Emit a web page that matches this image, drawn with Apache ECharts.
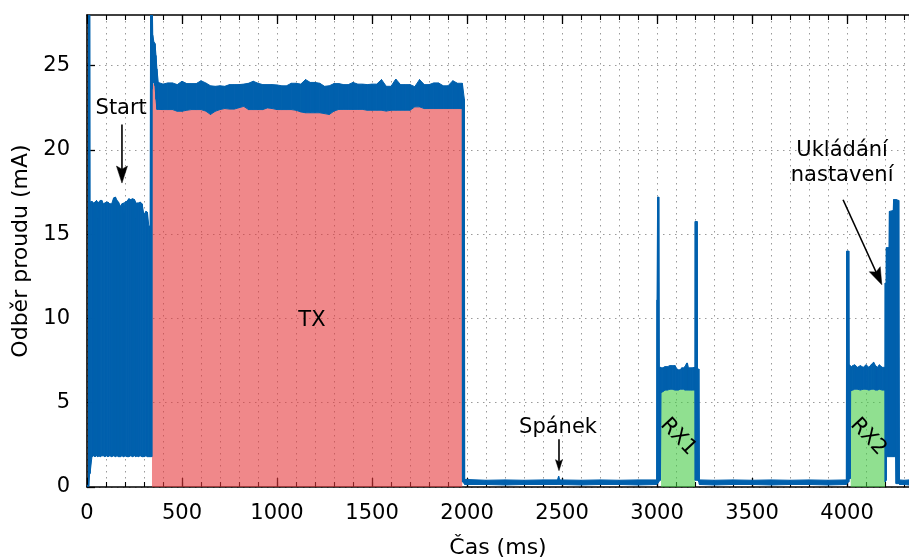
<!DOCTYPE html>
<html>
<head>
<meta charset="utf-8">
<script src="https://cdn.jsdelivr.net/npm/echarts@6/dist/echarts.min.js"></script>
<style>
  html, body { margin: 0; padding: 0; background: #ffffff; }
  #chart { width: 909px; height: 559px; }
</style>
</head>
<body>
<div id="chart"></div>
<script>
// ---- Measured current consumption: upper / lower envelope of the sampled signal ----
// Each segment: sample times (ms), upper envelope (mA), lower envelope (mA).

// power-up and start phase
const startT  = [0, 8, 9, 14, 16, 26, 34, 42, 50, 56, 58, 62, 70, 78, 86, 94, 102, 110, 120, 130,
                 140, 150, 158, 166, 176, 184, 192, 194, 200, 210, 220, 230, 240, 250, 256, 258, 262, 270, 280, 290,
                 298, 300, 302, 310, 318, 325, 332, 335, 341];
const startHi = [0.1, 0.1, 30, 30, 16.9, 16.95, 16.85, 16.9, 17.0, 16.9, 15.9, 16.9, 17.0, 17.0, 16.8, 16.85, 16.9, 16.9, 16.8, 16.8,
                 17.15, 17.2, 17.0, 16.9, 16.65, 16.8, 16.85, 16.3, 16.9, 16.95, 17.1, 17.05, 17.1, 17.05, 16.9, 15.9, 16.85, 16.85, 16.9, 16.8,
                 16.25, 15.8, 16.2, 16.35, 16.3, 15.5, 15.45, 30, 30];
const startLo = [0.05, 0.05, 0.05, 0.8, 0.8, 1.8, 1.85, 1.8, 1.85, 1.8, 1.8, 1.85, 1.8, 1.85, 1.85, 1.8, 1.85, 1.8, 1.85, 1.8,
                 1.85, 1.8, 1.85, 1.8, 1.8, 1.85, 1.8, 1.8, 1.85, 1.8, 1.8, 1.85, 1.8, 1.85, 1.8, 1.8, 1.85, 1.8, 1.85, 1.8,
                 1.8, 5.2, 1.8, 1.85, 1.8, 1.8, 1.8, 1.8, 1.8];

// transmission (TX)
const txT  = [342, 346, 352, 358, 363, 368, 375, 400, 425, 450, 475, 500, 525, 550, 575, 600, 625, 650, 675, 700,
              725, 750, 775, 800, 825, 850, 875, 900, 925, 950, 975, 1000, 1025, 1050, 1075, 1100, 1125, 1150, 1175, 1200,
              1225, 1250, 1275, 1300, 1325, 1350, 1375, 1400, 1425, 1450, 1475, 1500, 1525, 1550, 1575, 1600, 1625, 1650, 1675, 1700,
              1725, 1750, 1775, 1800, 1825, 1850, 1875, 1900, 1925, 1950, 1975];
const txHi = [30, 26.8, 26.4, 26.3, 25.6, 24.8, 24.0, 23.9, 23.97, 23.97, 23.87, 24.07, 23.93, 23.93, 23.93, 24.1, 23.97, 23.8, 23.77, 23.8,
              23.77, 23.87, 23.87, 23.87, 23.9, 23.95, 24.07, 23.95, 23.87, 23.87, 23.87, 23.85, 23.8, 23.8, 23.95, 23.95, 23.9, 24.17, 24.0, 24.0,
              23.95, 23.77, 23.8, 23.93, 23.93, 23.87, 23.87, 24.0, 23.9, 23.9, 23.87, 23.9, 23.9, 24.17, 23.77, 23.77, 24.2, 23.87, 23.87, 23.87,
              23.75, 24.17, 23.87, 23.87, 23.97, 23.97, 23.8, 23.8, 24.1, 23.95, 23.95];
const txLo = [23.6, 24.0, 24.0, 23.8, 23.0, 22.4, 22.4, 22.39, 22.39, 22.39, 22.29, 22.29, 22.35, 22.39, 22.39, 22.39, 22.3, 22.1, 22.29, 22.39,
              22.45, 22.42, 22.42, 22.5, 22.58, 22.39, 22.39, 22.39, 22.39, 22.49, 22.45, 22.39, 22.39, 22.39, 22.39, 22.35, 22.25, 22.2, 22.2, 22.2,
              22.2, 22.15, 22.1, 22.3, 22.4, 22.4, 22.4, 22.4, 22.4, 22.4, 22.35, 22.35, 22.35, 22.35, 22.3, 22.35, 22.35, 22.35, 22.35, 22.35,
              22.55, 22.55, 22.45, 22.45, 22.45, 22.45, 22.45, 22.45, 22.45, 22.45, 22.45];

// sleep after transmission
const sleep1T  = [1976, 1986, 1988, 2100, 2200, 2300, 2400, 2476, 2482, 2488, 2600, 2700, 2800, 2900, 2998];
const sleep1Hi = [23.9, 23.0, 0.45, 0.4, 0.42, 0.4, 0.42, 0.42, 0.65, 0.42, 0.4, 0.42, 0.4, 0.42, 0.42];
const sleep1Lo = [0.3, 0.2, 0.15, 0.15, 0.12, 0.15, 0.15, 0.15, 0.15, 0.15, 0.12, 0.15, 0.15, 0.12, 0.15];

// first receive window: wake-up peak, RX1, closing peak
const rx1OpenT  = [3000, 3003, 3009, 3012, 3018];
const rx1OpenHi = [11.1, 17.2, 17.2, 7.1, 7.1];
const rx1OpenLo = [0.2, 0.2, 0.3, 0.4, 0.4];
const rx1T  = [3021, 3030, 3042, 3055, 3068, 3080, 3095, 3105, 3112, 3122, 3130, 3140, 3147, 3156, 3160, 3165, 3175, 3185, 3200];
const rx1Hi = [7.07, 7.07, 7.14, 7.14, 7.2, 7.2, 7.2, 7.0, 6.95, 6.95, 7.07, 7.07, 7.14, 7.35, 7.35, 7.07, 7.07, 7.07, 7.1];
const rx1Lo = [5.6, 5.65, 5.75, 5.75, 5.8, 5.8, 5.75, 5.75, 5.75, 5.8, 5.8, 5.8, 5.75, 5.75, 5.75, 5.75, 5.75, 5.75, 5.75];
const rx1CloseT  = [3201, 3211, 3213, 3220];
const rx1CloseHi = [15.75, 15.75, 7.0, 7.0];
const rx1CloseLo = [0.4, 0.4, 0.4, 0.3];

// sleep between the receive windows
const sleep2T  = [3223, 3300, 3400, 3500, 3600, 3700, 3800, 3900, 3996];
const sleep2Hi = [0.42, 0.4, 0.42, 0.4, 0.42, 0.4, 0.42, 0.4, 0.42];
const sleep2Lo = [0.15, 0.12, 0.15, 0.15, 0.12, 0.15, 0.15, 0.12, 0.15];

// second receive window
const rx2OpenT  = [3998, 4009, 4011, 4017];
const rx2OpenHi = [14.0, 14.0, 7.25, 7.2];
const rx2OpenLo = [0.2, 0.3, 0.5, 0.5];
const rx2T  = [4019, 4030, 4040, 4055, 4070, 4085, 4100, 4115, 4130, 4140, 4150, 4160, 4170, 4185, 4200];
const rx2Hi = [7.1, 7.2, 7.25, 7.1, 7.2, 7.1, 7.25, 7.1, 7.3, 7.4, 7.2, 7.1, 7.25, 7.1, 7.1];
const rx2Lo = [5.7, 5.75, 5.8, 5.8, 5.75, 5.8, 5.8, 5.75, 5.8, 5.8, 5.75, 5.75, 5.8, 5.75, 5.75];

// storing settings, then sleep
const saveT  = [4201, 4206, 4207, 4221, 4223, 4243, 4245, 4256, 4258, 4272, 4276, 4300, 4326];
const saveHi = [12.1, 12.1, 14.2, 14.2, 16.35, 16.4, 17.05, 17.05, 17.05, 17.0, 0.42, 0.4, 0.42];
const saveLo = [0.3, 0.4, 1.8, 1.8, 1.8, 1.8, 1.8, 1.8, 0.2, 0.2, 0.15, 0.15, 0.12];

// axis ticks
const xTicks = [0, 500, 1000, 1500, 2000, 2500, 3000, 3500, 4000];
const yTicks = [0, 5, 10, 15, 20, 25];

// annotation texts
const noteTexts = ['Start', 'TX', 'Spánek', 'RX1', 'RX2', 'Ukládání\nnastavení'];

// ---- presentation ----
const FONT = 'DejaVu Sans';
const BLUE = '#0060ad';
const TX_FILL = 'rgba(230, 57, 60, 0.6)';
const RX_FILL = 'rgba(70, 203, 70, 0.6)';
const GRID_DOTS = { type: [1.5, 4.5], color: '#9a9a9a', width: 1 };

// where the annotation texts sit (data coordinates) and how they are turned
const notePlaces = [
  { x: 180,  y: 22.45, angle: 0 },
  { x: 1184, y: 9.9,   angle: 0 },
  { x: 2479, y: 3.5,   angle: 0 },
  { x: 3111, y: 2.97,  angle: -47 },
  { x: 4111, y: 2.97,  angle: -47 },
  { x: 3974, y: 19.2,  angle: 0 }
];
// arrows: from -> to (data coordinates), head length / width in px
const arrowPlaces = [
  { from: [184, 21.5],   to: [184, 18.03],  head: [17, 11] },
  { from: [2484, 2.83],  to: [2484, 0.97],  head: [11, 7] },
  { from: [3979, 17.04], to: [4183, 12.0],  head: [17, 12] }
];

// ---- assemble the envelope ----
const segments = [
  [startT, startHi, startLo], [txT, txHi, txLo], [sleep1T, sleep1Hi, sleep1Lo],
  [rx1OpenT, rx1OpenHi, rx1OpenLo], [rx1T, rx1Hi, rx1Lo], [rx1CloseT, rx1CloseHi, rx1CloseLo],
  [sleep2T, sleep2Hi, sleep2Lo], [rx2OpenT, rx2OpenHi, rx2OpenLo], [rx2T, rx2Hi, rx2Lo],
  [saveT, saveHi, saveLo]
];
const sigT = [], sigHi = [], sigLo = [];
segments.forEach(([t, hi, lo]) => {
  t.forEach((v, i) => { sigT.push(v); sigHi.push(hi[i]); sigLo.push(lo[i]); });
});
// one quad per pair of neighbouring samples
const bandData = [];
for (let i = 0; i + 1 < sigT.length; i++) {
  bandData.push([sigT[i], sigLo[i], sigHi[i], sigT[i + 1], sigLo[i + 1], sigHi[i + 1]]);
}
const pairs = (t, v) => t.map((x, i) => [x, v[i]]);
const plain = (v) => String(v);

const chart = echarts.init(document.getElementById('chart'), null, { renderer: 'canvas' });

const hiddenAxisBits = { axisLine: { show: false }, axisLabel: { show: false }, splitLine: { show: false } };

const option = {
  animation: false,
  backgroundColor: '#ffffff',
  textStyle: { fontFamily: FONT },
  grid: { left: 87, right: 0, top: 15, bottom: 72, outerBoundsMode: 'none', containLabel: false },
  xAxis: [
    { // bottom: labelled major ticks
      type: 'value', position: 'bottom', min: 0, max: 4326,
      axisLine: { show: true, onZero: false, lineStyle: { color: '#000', width: 1.6 } },
      axisTick: { show: true, inside: true, length: 9, customValues: xTicks, lineStyle: { color: '#000', width: 1.3 } },
      axisLabel: { show: true, customValues: xTicks, formatter: plain, margin: 16, fontSize: 21, color: '#000', fontFamily: FONT },
      splitLine: { show: false },
      name: 'Čas (ms)', nameLocation: 'middle', nameGap: 50,
      nameTextStyle: { fontSize: 22, color: '#000', fontFamily: FONT }
    },
    { // bottom: minor ticks + vertical grid
      type: 'value', position: 'bottom', min: 0, max: 4326, interval: 100,
      axisLine: { show: false }, axisLabel: { show: false },
      axisTick: { show: true, inside: true, length: 5, lineStyle: { color: '#000', width: 1.1 } },
      splitLine: { show: true, lineStyle: GRID_DOTS }
    },
    { // top frame with major ticks
      type: 'value', position: 'top', min: 0, max: 4326,
      axisLine: { show: true, onZero: false, lineStyle: { color: '#000', width: 1.6 } },
      axisTick: { show: true, inside: true, length: 9, customValues: xTicks, lineStyle: { color: '#000', width: 1.3 } },
      axisLabel: { show: false }, splitLine: { show: false }
    },
    { // top minor ticks
      type: 'value', position: 'top', min: 0, max: 4326, interval: 100,
      axisTick: { show: true, inside: true, length: 5, lineStyle: { color: '#000', width: 1.1 } },
      ...hiddenAxisBits
    }
  ],
  yAxis: [
    {
      type: 'value', position: 'left', min: 0, max: 28, interval: 5,
      axisLine: { show: true, onZero: false, lineStyle: { color: '#000', width: 1.6 } },
      axisTick: { show: true, inside: true, length: 8, customValues: yTicks, lineStyle: { color: '#000', width: 1.3 } },
      axisLabel: { show: true, customValues: yTicks, formatter: plain, margin: 17, fontSize: 21, color: '#000', fontFamily: FONT },
      splitLine: { show: true, lineStyle: GRID_DOTS },
      name: 'Odběr proudu (mA)', nameLocation: 'middle', nameGap: 53,
      nameTextStyle: { fontSize: 22, color: '#000', fontFamily: FONT }
    }
  ],
  series: [
    { // TX shading
      type: 'line', xAxisIndex: 0, yAxisIndex: 0, z: 2, silent: true,
      data: pairs(txT, txLo), showSymbol: false, symbol: 'none',
      lineStyle: { width: 0 }, areaStyle: { color: TX_FILL, opacity: 1 }
    },
    { // RX1 shading
      type: 'line', xAxisIndex: 0, yAxisIndex: 0, z: 2, silent: true,
      data: pairs(rx1T, rx1Lo), showSymbol: false, symbol: 'none',
      lineStyle: { width: 0 }, areaStyle: { color: RX_FILL, opacity: 1 }
    },
    { // RX2 shading
      type: 'line', xAxisIndex: 0, yAxisIndex: 0, z: 2, silent: true,
      data: pairs(rx2T, rx2Lo), showSymbol: false, symbol: 'none',
      lineStyle: { width: 0 }, areaStyle: { color: RX_FILL, opacity: 1 }
    },
    { // measured current (envelope band)
      type: 'custom', xAxisIndex: 0, yAxisIndex: 0, z: 3, clip: true, silent: true,
      data: bandData,
      encode: { x: [0, 3], y: [1, 2, 4, 5] },
      renderItem: function (params, api) {
        const a = api.coord([api.value(0), api.value(1)]);
        const b = api.coord([api.value(0), api.value(2)]);
        const c = api.coord([api.value(3), api.value(5)]);
        const d = api.coord([api.value(3), api.value(4)]);
        return {
          type: 'polygon',
          shape: { points: [a, b, c, d] },
          style: { fill: BLUE, stroke: BLUE, lineWidth: 1 }
        };
      }
    },
    { // arrows
      type: 'custom', xAxisIndex: 0, yAxisIndex: 0, z: 5, silent: true,
      data: arrowPlaces.map((a, i) => [a.from[0], a.from[1], a.to[0], a.to[1], i]),
      encode: { x: [0, 2], y: [1, 3] },
      renderItem: function (params, api) {
        const p0 = api.coord([api.value(0), api.value(1)]);
        const p1 = api.coord([api.value(2), api.value(3)]);
        const head = arrowPlaces[api.value(4)].head;
        const L = head[0], W = head[1];
        const dx = p1[0] - p0[0], dy = p1[1] - p0[1];
        const len = Math.hypot(dx, dy);
        const ux = dx / len, uy = dy / len, nx = -uy, ny = ux;
        const bx = p1[0] - ux * L, by = p1[1] - uy * L;
        const notch = L * 0.18;
        const back = [bx + ux * notch, by + uy * notch];
        return {
          type: 'group',
          children: [
            { type: 'line', shape: { x1: p0[0], y1: p0[1], x2: back[0], y2: back[1] },
              style: { stroke: '#000', lineWidth: 1.6 } },
            { type: 'polygon',
              shape: { points: [p1, [bx + nx * W / 2, by + ny * W / 2], back, [bx - nx * W / 2, by - ny * W / 2]] },
              style: { fill: '#000', stroke: '#000', lineWidth: 0.5 } }
          ]
        };
      }
    },
    { // annotation texts
      type: 'custom', xAxisIndex: 0, yAxisIndex: 0, z: 6, silent: true,
      data: notePlaces.map((p, i) => [p.x, p.y, i]),
      encode: { x: 0, y: 1 },
      renderItem: function (params, api) {
        const i = api.value(2);
        const p = api.coord([api.value(0), api.value(1)]);
        return {
          type: 'text',
          x: p[0], y: p[1],
          rotation: notePlaces[i].angle * Math.PI / 180,
          style: {
            text: noteTexts[i], fill: '#000',
            font: '21px "' + FONT + '"',
            lineHeight: 25,
            align: 'center', verticalAlign: 'middle'
          }
        };
      }
    }
  ]
};

chart.setOption(option);
</script>
</body>
</html>
